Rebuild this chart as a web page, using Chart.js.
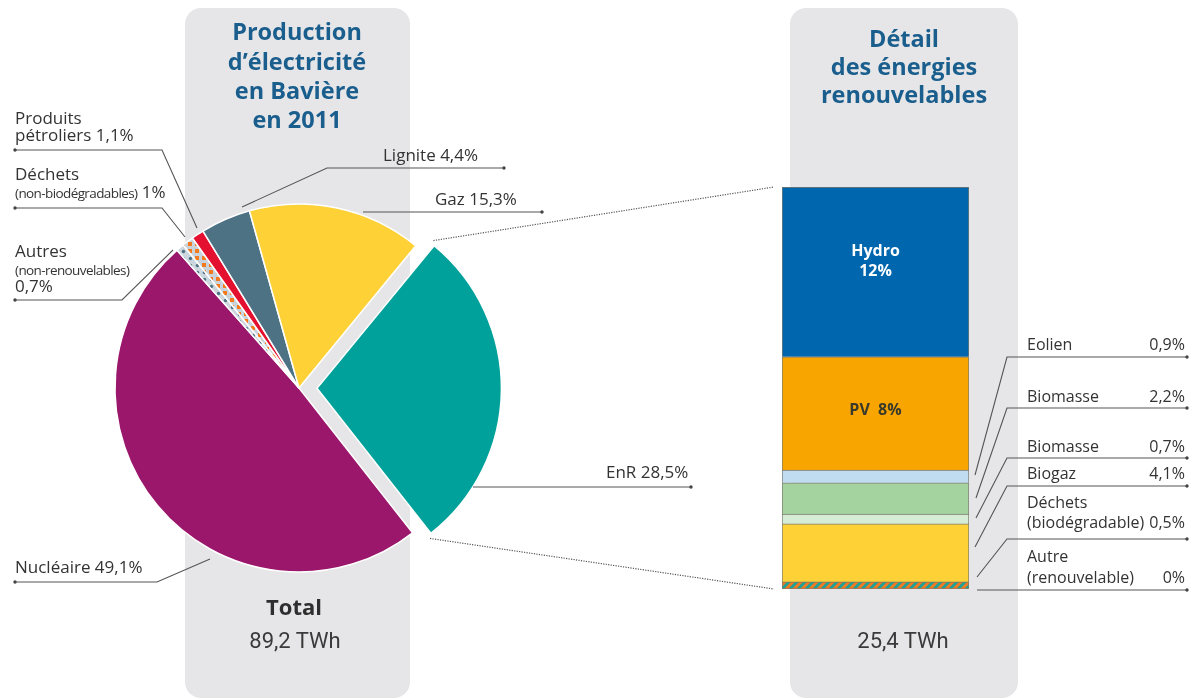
<!DOCTYPE html>
<html lang="fr">
<head>
<meta charset="utf-8">
<title>Production d'électricité en Bavière en 2011</title>
<script src="https://cdn.jsdelivr.net/npm/chart.js@4.4.1/dist/chart.umd.min.js"></script>
<style>
  html,body{margin:0;padding:0;background:#fff;}
  #stage{position:relative;width:1191px;height:700px;overflow:hidden;}
  .panel{position:absolute;background:#e6e6e8;border-radius:16px;}
  canvas{position:absolute;}
  svg{position:absolute;left:0;top:0;font-family:"Open Sans",sans-serif;}
</style>
</head>
<body>
<div id="stage">
  <div class="panel" style="left:185px;top:8px;width:225px;height:690px"></div>
  <div class="panel" style="left:790px;top:8px;width:228px;height:690px"></div>
  <canvas id="pie" width="420" height="420" style="left:89px;top:178px"></canvas>
  <canvas id="bar" width="197" height="412" style="left:777px;top:182px"></canvas>
  <svg id="notes" width="1191" height="700"></svg>
</div>
<script>
// Production d'électricité en Bavière 2011 -- pie + detail of renewables

// pie, clockwise from the EnR slice
const pieLabels = ['EnR', 'Nucléaire', 'Autres (non-renouvelables)', 'Déchets (non-biodégradables)', 'Produits pétroliers', 'Lignite', 'Gaz'];
const pieValues = [28.5, 49.1, 0.7, 1, 1.1, 4.4, 15.3];

// renewables bar, bottom to top
const enrLabels = ['Autre (renouvelable)', 'Déchets (biodégradable)', 'Biogaz', 'Biomasse', 'Biomasse', 'Eolien', 'PV', 'Hydro'];
const enrValues = [0, 0.5, 4.1, 0.7, 2.2, 0.9, 8, 12];

const totals = ['89,2 TWh', '25,4 TWh'];

const pct = v => String(v).replace('.', ',') + '%';

function tile(ctx, w, h, draw){
  const c = document.createElement('canvas');
  c.width = w; c.height = h;
  draw(c.getContext('2d'));
  return ctx.createPattern(c, 'repeat');
}

// ---- pie
const pieCanvas = document.getElementById('pie');
const pctx = pieCanvas.getContext('2d');
const dechetsPat = tile(pctx, 7, 7, g=>{
  g.fillStyle = '#c9d3dc'; g.fillRect(0,0,7,7);
  g.fillStyle = '#f37a1f'; g.fillRect(1,1,4,4);
});
const autresPat = tile(pctx, 7, 7, g=>{
  g.fillStyle = '#ccd6df'; g.fillRect(0,0,7,7);
  g.fillStyle = '#4f7283'; g.beginPath(); g.arc(3.5,3.5,1.7,0,Math.PI*2); g.fill();
});
const pieColors = ['#00a19a', '#9b176c', autresPat, dechetsPat, '#e3102f', '#4d7284', '#fed136'];

const pie = new Chart(pieCanvas, {
  type: 'pie',
  data: { labels: pieLabels, datasets: [{
    data: pieValues,
    backgroundColor: pieColors,
    borderColor: '#ffffff',
    borderWidth: 1.5,
    offset: pieValues.map((v,i)=> i === 0 ? 72 : 0)   // arc offset is drawn /4
  }]},
  options: {
    responsive: false, animation: false, events: [],
    rotation: 39.4, radius: 184,
    layout: { padding: 0 },
    plugins: { legend: {display:false}, tooltip: {enabled:false} }
  }
});

// ---- renewables bar
const barCanvas = document.getElementById('bar');
const bctx = barCanvas.getContext('2d');
const stripes = tile(bctx, 8, 8, g=>{
  g.fillStyle = '#1aa198'; g.fillRect(0,0,8,8);
  g.strokeStyle = '#f07a22'; g.lineWidth = 3;
  g.beginPath();
  g.moveTo(-2,10); g.lineTo(10,-2);
  g.moveTo(-6,6); g.lineTo(6,-6);
  g.moveTo(2,14); g.lineTo(14,2);
  g.stroke();
});
const enrColors = ['#f07a22', stripes, '#fed136', '#d6ecd4', '#a5d3a0', '#c0dcf0', '#f8a500', '#0066ad'];
const enrTotal = enrValues.reduce((a,b)=>a+b, 0);

const bar = new Chart(barCanvas, {
  type: 'bar',
  data: { labels: ['EnR'], datasets: enrLabels.map((l,i)=>({
    label: l,
    data: [enrValues[i]],
    backgroundColor: enrColors[i],
    borderColor: '#7b7b70',
    borderWidth: enrValues[i] ? {left:1, right:1, top:1, bottom: i === 1 ? 1 : 0} : 0,
    borderSkipped: false,
    barPercentage: 1, categoryPercentage: 1
  }))},
  options: {
    responsive: false, animation: false, events: [],
    layout: { padding: 5 },
    scales: {
      x: { display:false, stacked:true },
      y: { display:false, stacked:true, min:0, max:enrTotal }
    },
    plugins: { legend: {display:false}, tooltip: {enabled:false} }
  }
});

// ---- annotations (svg)
const NS = 'http://www.w3.org/2000/svg';
const svg = document.getElementById('notes');
function add(tag, attrs, parent){
  const e = document.createElementNS(NS, tag);
  for(const k in attrs) e.setAttribute(k, attrs[k]);
  (parent || svg).appendChild(e);
  return e;
}
function leader(pts, dot){
  add('polyline', {points: pts.map(p=>p.join(',')).join(' '), fill:'none', stroke:'#555', 'stroke-width':1.1});
  add('circle', {cx:dot[0], cy:dot[1], r:1.7, fill:'#444'});
}
// parts: [[text, size, extraAttrs]...]
function text(x, y, parts, o){
  o = o || {};
  const t = add('text', {x, y, fill: o.fill || '#333333', 'font-size': o.size || 17,
    'font-weight': o.weight || 400, 'text-anchor': o.anchor || 'start',
    'font-family': o.family || '"Open Sans", sans-serif'});
  (Array.isArray(parts) ? parts : [[parts]]).forEach(p=>{
    const s = add('tspan', {}, t);
    if(p[1]) s.setAttribute('font-size', p[1]);
    if(p[2]) for(const k in p[2]) s.setAttribute(k, p[2][k]);
    s.textContent = p[0];
  });
  return t;
}
const small = {'letter-spacing': '-0.6'};

// titles
const titleCol = '#1a5e8d';
['Production', 'd\u2019électricité', 'en Bavière', 'en 2011'].forEach((s,i)=>
  text(297, [40,70,99,128][i], s, {size:23.5, weight:700, fill:titleCol, anchor:'middle'}));
['Détail', 'des énergies', 'renouvelables'].forEach((s,i)=>
  text(904, [47,75,103][i], s, {size:23.5, weight:700, fill:titleCol, anchor:'middle'}));

// totals
text(294, 615, 'Total', {size:22, weight:700, fill:'#2e2e2e', anchor:'middle'});
text(295, 648, totals[0], {size:22, fill:'#3a3a3a', anchor:'middle', family:'Roboto, sans-serif'});
text(903, 648, totals[1], {size:22, fill:'#3a3a3a', anchor:'middle', family:'Roboto, sans-serif'});

// pie labels
text(15, 124, 'Produits');
text(15, 141, 'pétroliers ' + pct(pieValues[4]));
leader([[15,150],[162,150],[197,228]], [15,150]);

text(15, 180, 'Déchets');
text(15, 198, [['(non-biodégradables)', 13.5, small], [' ' + pct(pieValues[3]), 17]]);
leader([[15,208],[162,208],[185,237]], [15,208]);

text(15, 257, 'Autres');
text(15, 275, [['(non-renouvelables)', 13.5, small]]);
text(15, 292, pct(pieValues[2]));
leader([[15,300],[122,300],[173,250]], [15,300]);

text(15, 573, 'Nucléaire ' + pct(pieValues[1]));
leader([[15,582],[157,582],[210,559]], [15,582]);

text(383, 161, 'Lignite ' + pct(pieValues[5]));
leader([[504,168],[327,168],[242,207]], [504,168]);

text(435, 205, 'Gaz ' + pct(pieValues[6]));
leader([[542,212],[363,212]], [542,212]);

text(606, 478, 'EnR ' + pct(pieValues[0]));
leader([[691,487],[473,487]], [691,487]);

// renewables labels (index into enrValues)
const rowY = [
  {i:5, name:['Eolien'], base:[350], line:357, end:[975,475]},
  {i:4, name:['Biomasse'], base:[402], line:408, end:[976,498]},
  {i:3, name:['Biomasse'], base:[452], line:458, end:[976,518]},
  {i:2, name:['Biogaz'], base:[479], line:486, end:[975,547]},
  {i:1, name:['Déchets','(biodégradable)'], base:[508,528], line:539, end:[977,577]},
  {i:0, name:['Autre','(renouvelable)'], base:[562,583], line:590, end:null}
];
rowY.forEach(r=>{
  r.name.forEach((n,k)=> text(1027, r.base[k], n, {size:16}));
  text(1185, r.base[r.base.length-1], pct(enrValues[r.i]), {size:16, anchor:'end'});
  if(r.end) leader([[1187,r.line],[1007,r.line],r.end], [1187,r.line]);
  else leader([[1187,r.line],[977,r.line]], [1187,r.line]);
});

// labels inside bar segments, placed from the bar elements
const bl = barCanvas.offsetLeft, bt = barCanvas.offsetTop;
const hydro = bar.getDatasetMeta(7).data[0];
const pv = bar.getDatasetMeta(6).data[0];
const hc = bt + (hydro.y + hydro.base)/2;
text(bl + hydro.x, hc - 16, enrLabels[7], {size:16, weight:700, fill:'#ffffff', anchor:'middle'});
text(bl + hydro.x, hc + 4, pct(enrValues[7]), {size:16, weight:700, fill:'#ffffff', anchor:'middle'});
text(bl + pv.x, bt + (pv.y + pv.base)/2 + 2, enrLabels[6] + '\u00a0\u00a0' + pct(enrValues[6]), {size:16, weight:700, fill:'#3a3a2a', anchor:'middle'});

// dotted connectors from the EnR slice corners to the bar top / bottom
const enr = pie.getDatasetMeta(0).data[0];
const mid = (enr.startAngle + enr.endAngle)/2;
const pl = pieCanvas.offsetLeft, ptop = pieCanvas.offsetTop;
const cx = pl + enr.x + Math.cos(mid)*18, cy = ptop + enr.y + Math.sin(mid)*18;
const R = enr.outerRadius + 4;
const barLeft = bl + hydro.x - hydro.width/2 - 8;
const barTop = bt + hydro.y, barBottom = bt + bar.getDatasetMeta(1).data[0].base;
[[enr.startAngle - 0.02, barTop], [enr.endAngle + 0.02, barBottom]].forEach(([a, yEnd])=>{
  add('line', {x1: cx + Math.cos(a)*R, y1: cy + Math.sin(a)*R, x2: barLeft, y2: yEnd,
    stroke:'#555', 'stroke-width':1.2, 'stroke-dasharray':'1.2 1.3'});
});
</script>
</body>
</html>
